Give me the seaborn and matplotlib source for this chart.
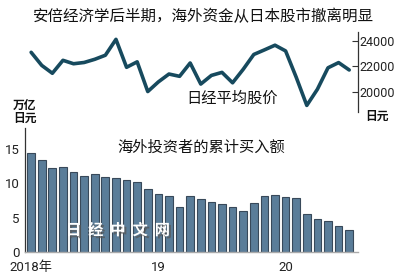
import matplotlib
matplotlib.use("Agg")
import matplotlib.pyplot as plt
import matplotlib.patheffects as pe
import seaborn as sns
import pandas as pd

months = [f"{y}-{m:02d}" for y in (2018, 2019, 2020) for m in range(1, 13)][:31]
nikkei = [23100, 22070, 21450, 22470, 22200, 22300, 22550, 22870, 24120, 21920,
          22350, 20010, 20770, 21390, 21210, 22260, 20600, 21280, 21520, 20700,
          21760, 22930, 23290, 23660, 23210, 21140, 18920, 20190, 21880, 22290, 21710]
buying = [14.4, 13.3, 12.2, 12.4, 11.7, 11.0, 11.4, 10.9, 10.8, 10.5, 10.2, 9.1,
          8.5, 8.1, 6.6, 8.2, 7.7, 7.3, 7.0, 6.5, 6.0, 7.1, 8.1, 8.3, 8.0, 7.8,
          5.6, 4.8, 4.6, 3.8, 3.3]
right_ticks = [20000, 22000, 24000]
left_ticks = [0, 5, 10, 15]
xlabels = {0: "2018年", 12: "19", 24: "20"}

title = "安倍经济学后半期，海外资金从日本股市撤离明显"
line_label = "日经平均股价"
bar_label = "海外投资者的累计买入额"

sns.set_theme(style="white")
plt.rcParams['font.family'] = ['Noto Sans CJK SC', 'DejaVu Sans']

num_font = ['Roboto', 'DejaVu Sans']

df = pd.DataFrame({"month": months, "idx": list(range(len(months))),
                   "nikkei": nikkei, "buying": buying})

W, H = 400, 279
fig = plt.figure(figsize=(W / 100, H / 100), dpi=100)
fig.patch.set_facecolor("white")

L, R = 25 / W, 358 / W
ax1 = fig.add_axes([L, 1 - 112 / H, R - L, 80 / H])
ax2 = fig.add_axes([L, 1 - 252.3 / H, R - L, (252.3 - 128) / H])
xl = (-0.58, 30.83)

# top line
sns.lineplot(data=df, x="idx", y="nikkei", ax=ax1, color="#174a5e", linewidth=2.6)
ax1.set_xlim(*xl)
ax1.set_ylim(18400, 24700)
ax1.yaxis.tick_right()
ax1.set_yticks(right_ticks)
ax1.set_yticklabels([str(v) for v in right_ticks], color="#222222",
                    family=num_font, fontsize=9)
ax1.tick_params(axis="y", direction="in", length=4, width=0.8, color="#333333", pad=1)
ax1.set_xticks([])
ax1.set_xlabel("")
ax1.set_ylabel("")
for s in ["top", "left", "bottom"]:
    ax1.spines[s].set_visible(False)
ax1.spines["right"].set_color("#333333")
ax1.spines["right"].set_linewidth(0.9)
ax1.set_facecolor("none")

# bottom bars
sns.barplot(data=df, x="month", y="buying", ax=ax2, color="#5a7d99",
            edgecolor="#38495a", linewidth=0.8, width=0.73, saturation=1)
ax2.set_xlim(*xl)
ax2.set_ylim(0, 18)
ax2.set_yticks(left_ticks)
ax2.set_yticklabels([str(v) for v in left_ticks], color="#222222",
                    family=num_font, fontsize=9.5)
ax2.tick_params(axis="y", direction="out", length=3, width=0.8, color="#333333", pad=1)
ax2.set_xticks(list(xlabels.keys()))
ax2.set_xticklabels(list(xlabels.values()), color="#222222", fontsize=9.5,
                    family=['Roboto', 'Noto Sans CJK SC'])
ax2.tick_params(axis="x", length=0, pad=6)
ax2.set_xlabel("")
ax2.set_ylabel("")
for s in ["top", "right"]:
    ax2.spines[s].set_visible(False)
ax2.spines["left"].set_color("#333333")
ax2.spines["left"].set_linewidth(0.9)
ax2.spines["bottom"].set_color("#aaaaaa")
ax2.spines["bottom"].set_linewidth(1.0)
ax2.set_facecolor("none")

# texts
fig.text(203 / W, 1 - 17 / H, title, ha="center", va="center", fontsize=11.2, color="#111111")
fig.text(232 / W, 1 - 98 / H, line_label, ha="center", va="center", fontsize=11, color="#111111")
fig.text(201 / W, 1 - 147 / H, bar_label, ha="center", va="center", fontsize=11, color="#111111")
fig.text(377 / W, 1 - 116 / H, "日元", ha="center", va="center", fontsize=8.5,
         fontweight="bold", color="#111111")
fig.text(25 / W, 1 - 112 / H, "万亿\n日元", ha="center", va="center", fontsize=8.5,
         fontweight="bold", color="#111111", linespacing=1.0)
fig.text(118 / W, 1 - 230 / H, "日  经  中  文  网", ha="center", va="center", fontsize=11,
         fontweight="bold", color="white",
         path_effects=[pe.withSimplePatchShadow(offset=(1.5, -1.5), shadow_rgbFace="#555555", alpha=0.7)])

fig.savefig("out.png", dpi=100)
